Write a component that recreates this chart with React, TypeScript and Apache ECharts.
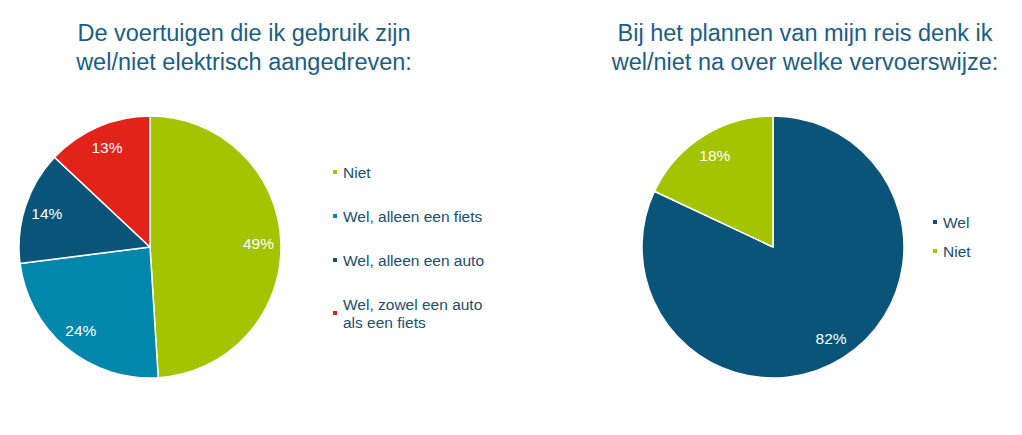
import React, { useEffect, useRef } from "react";
import * as echarts from "echarts";

// linker taart: elektrisch aangedreven voertuigen
const leftCategories = [
    "Niet",
    "Wel, alleen een fiets",
    "Wel, alleen een auto",
    "Wel, zowel een auto als een fiets",
];
const leftValues = [49, 24, 14, 13];
const leftColors = ["#A5C400", "#0087AB", "#0A5479", "#E2231A"];

// rechter taart: nadenken over vervoerswijze
const rightCategories = ["Wel", "Niet"];
const rightValues = [82, 18];
const rightColors = ["#0A5479", "#A5C400"];

const leftTitle = "De voertuigen die ik gebruik zijn\nwel/niet elektrisch aangedreven:";
const rightTitle = "Bij het plannen van mijn reis denk ik\nwel/niet na over welke vervoerswijze:";

const FONT = "'Liberation Sans', Arial, sans-serif";
const TITLE_COLOR = "#1A5E84";
const LEGEND_COLOR = "#1C4E6F";

const toData = (names: string[], values: number[], colors: string[]) =>
    names.map((name, i) => ({ name, value: values[i], itemStyle: { color: colors[i] } }));

const pieSeries = (names: string[], values: number[], colors: string[], center: number[]) => [
    {
        type: "pie",
        center,
        radius: 131,
        startAngle: 90,
        clockwise: true,
        avoidLabelOverlap: false,
        label: { show: false },
        labelLine: { show: false },
        itemStyle: { borderColor: "#ffffff", borderWidth: 1.5 },
        emphasis: { disabled: true },
        data: toData(names, values, colors),
    },
    {
        // alleen voor de percentages
        type: "pie",
        center,
        radius: [80, 131],
        startAngle: 90,
        clockwise: true,
        silent: true,
        avoidLabelOverlap: false,
        itemStyle: { color: "transparent", borderWidth: 0 },
        label: {
            show: true,
            position: "inside",
            formatter: "{c}%",
            color: "#ffffff",
            fontSize: 15.5,
            fontFamily: FONT,
        },
        labelLine: { show: false },
        emphasis: { disabled: true },
        data: names.map((name, i) => ({ name, value: values[i] })),
    },
];

const legendText = { color: LEGEND_COLOR, fontSize: 15.5, fontFamily: FONT, lineHeight: 18 };

const App: React.FC = () => {
    const chartRef = useRef<HTMLDivElement>(null);

    useEffect(() => {
        if (!chartRef.current) return;
        document.body.style.margin = "0";
        const chart = echarts.init(chartRef.current, null, { renderer: "svg" });

        const titleStyle = {
            color: TITLE_COLOR,
            fontSize: 23.5,
            fontWeight: "normal",
            fontFamily: FONT,
            lineHeight: 29,
        };

        chart.setOption({
            animation: false,
            backgroundColor: "#ffffff",
            title: [
                { text: leftTitle, left: 244, top: 18, textAlign: "center", padding: 0, textStyle: titleStyle },
                { text: rightTitle, left: 805, top: 18, textAlign: "center", padding: 0, textStyle: titleStyle },
            ],
            legend: [
                {
                    orient: "vertical",
                    left: 331,
                    top: 163,
                    padding: 0,
                    itemWidth: 6,
                    itemHeight: 6,
                    itemGap: 26,
                    itemTextGap: 5,
                    icon: "rect",
                    selectedMode: false,
                    textStyle: legendText,
                    data: leftCategories.slice(0, 3),
                },
                {
                    orient: "vertical",
                    left: 331,
                    top: 286,
                    padding: 0,
                    itemWidth: 6,
                    itemHeight: 6,
                    itemTextGap: 5,
                    icon: "rect",
                    selectedMode: false,
                    textStyle: { ...legendText, padding: [18, 0, 0, 0] },
                    formatter: (name: string) => name.replace(" als ", "\nals "),
                    data: leftCategories.slice(3),
                },
                {
                    orient: "vertical",
                    left: 931,
                    top: 213,
                    padding: 0,
                    itemWidth: 6,
                    itemHeight: 6,
                    itemGap: 11,
                    itemTextGap: 5,
                    icon: "rect",
                    selectedMode: false,
                    textStyle: legendText,
                    data: rightCategories,
                },
            ],
            series: [
                ...pieSeries(leftCategories, leftValues, leftColors, [150, 247]),
                ...pieSeries(rightCategories, rightValues, rightColors, [773, 247]),
            ],
        });

        return () => {
            chart.dispose();
        };
    }, []);

    return <div ref={chartRef} style={{ width: 1022, height: 435 }} />;
};

export default App;
